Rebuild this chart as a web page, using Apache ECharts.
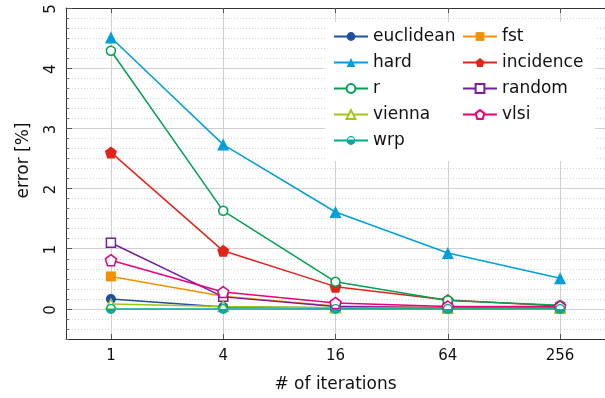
<!DOCTYPE html>
<html>
<head>
<meta charset="utf-8">
<script src="https://cdn.jsdelivr.net/npm/echarts@6/dist/echarts.min.js"></script>
<style>
    html, body { margin: 0; padding: 0; background: #fff; }
    #errorChart { width: 605px; height: 398px; }
</style>
</head>
<body>
<div id="errorChart"></div>
<script>
    // data
    const iterations = [1, 4, 16, 64, 256]
    const yTicks = [0, 1, 2, 3, 4, 5]

    const euclidean = [0.165, 0.03, 0.02, 0.01, 0.01]
    const fst = [0.54, 0.21, 0.05, 0.02, 0.01]
    const hard = [4.51, 2.73, 1.61, 0.93, 0.51]
    const incidence = [2.60, 0.965, 0.37, 0.15, 0.05]
    const r = [4.29, 1.63, 0.45, 0.14, 0.06]
    const random = [1.10, 0.20, 0.04, 0.02, 0.02]
    const vienna = [0.08, 0.04, 0.02, 0.01, 0.01]
    const vlsi = [0.81, 0.28, 0.10, 0.04, 0.04]
    const wrp = [0.0, 0.0, 0.0, 0.0, 0.0]

    const log4 = v => Math.log(v) / Math.log(4)
    const xTicks = iterations.map(log4)

    const pentagon = 'path://M0,-1 L0.951,-0.309 L0.588,0.809 L-0.588,0.809 L-0.951,-0.309 Z'
    const halfCircle = 'path://M-1,0 A1,1 0 1,1 1,0 A1,1 0 1,1 -1,0 Z M-0.72,0 A0.72,0.72 0 1,0 0.72,0 A0.72,0.72 0 1,0 -0.72,0 Z M-0.72,0 A0.72,0.72 0 0,0 0.72,0 Z'

    const FONT = 'DejaVu Sans'

    function makeSeries (name, values, color, symbol, size, empty) {
        return {
            name: name,
            type: 'line',
            xAxisIndex: 0,
            yAxisIndex: 1,
            data: iterations.map((it, i) => [log4(it), values[i]]),
            symbol: symbol,
            symbolSize: size,
            showAllSymbol: true,
            lineStyle: { color: color, width: 1.5 },
            itemStyle: empty
                ? { color: '#fff', borderColor: color, borderWidth: 1.5 }
                : { color: color, borderWidth: 0 },
            emphasis: { disabled: true },
            animation: false
        }
    }

    const series = [
        makeSeries('euclidean', euclidean, '#1f4ea3', 'circle', 10, false),
        makeSeries('fst', fst, '#f39200', 'rect', 10, false),
        makeSeries('hard', hard, '#009fda', 'triangle', 12, false),
        makeSeries('incidence', incidence, '#e2231a', pentagon, 12, false),
        makeSeries('r', r, '#00a150', 'circle', 9, true),
        makeSeries('random', random, '#7020a0', 'rect', 9, true),
        makeSeries('vienna', vienna, '#a2c617', 'triangle', 10, true),
        makeSeries('vlsi', vlsi, '#e6007e', pentagon, 11, true),
        makeSeries('wrp', wrp, '#00a99d', halfCircle, 10, false)
    ]

    const legendBase = {
        orient: 'vertical',
        top: 28,
        padding: 0,
        itemWidth: 34,
        itemHeight: 11,
        itemGap: 9,
        selectedMode: false,
        textStyle: { fontFamily: FONT, fontSize: 17, color: '#111' }
    }

    const legendBox = {
        type: 'rect',
        z: 3,
        shape: { x: 325, y: 22, width: 270, height: 139 },
        style: { fill: '#fff' }
    }

    const myChart = echarts.init(document.getElementById('errorChart'))
    const option = {
        animation: false,
        grid: { left: 66, right: -7, top: 8, bottom: 58, containLabel: false },
        graphic: [legendBox],
        legend: [
            Object.assign({}, legendBase, { left: 333, data: ['euclidean', 'hard', 'r', 'vienna', 'wrp'] }),
            Object.assign({}, legendBase, { left: 462, data: ['fst', 'incidence', 'random', 'vlsi'] })
        ],
        xAxis: [
            {
                type: 'value',
                min: -0.4,
                max: 4.4,
                position: 'bottom',
                name: '# of iterations',
                nameLocation: 'middle',
                nameGap: 37,
                nameTextStyle: { fontFamily: FONT, fontSize: 17, color: '#111' },
                axisLine: { show: true, onZero: false, lineStyle: { color: '#333', width: 1 } },
                axisTick: { show: true, inside: true, length: 5, customValues: xTicks, lineStyle: { color: '#555' } },
                axisLabel: {
                    customValues: xTicks,
                    margin: 10,
                    fontFamily: FONT,
                    fontSize: 15,
                    color: '#111',
                    formatter: v => String(Math.round(Math.pow(4, v)))
                },
                splitLine: { show: true, lineStyle: { color: '#cfcfcf', width: 1 } }
            },
            {
                type: 'value',
                min: -0.4,
                max: 4.4,
                position: 'top',
                axisLine: { show: true, onZero: false, lineStyle: { color: '#333', width: 1 } },
                axisTick: { show: true, inside: true, length: 5, customValues: xTicks, lineStyle: { color: '#555' } },
                axisLabel: { show: false },
                splitLine: { show: false }
            }
        ],
        yAxis: [
            {
                // dotted minor grid
                type: 'value',
                min: -0.5,
                max: 5,
                interval: 1 / 6,
                position: 'left',
                axisLine: { show: false, onZero: false },
                axisTick: { show: true, inside: true, length: 3, lineStyle: { color: '#666' } },
                axisLabel: { show: false },
                splitLine: { show: true, lineStyle: { color: '#d2d2d2', type: [1, 2], width: 1 } }
            },
            {
                type: 'value',
                min: -0.5,
                max: 5,
                interval: 0.5,
                position: 'left',
                name: 'error [%]',
                nameLocation: 'middle',
                nameGap: 34,
                nameTextStyle: { fontFamily: FONT, fontSize: 17, color: '#111', padding: [0, 0, 0, 26] },
                axisLine: { show: true, onZero: false, lineStyle: { color: '#333', width: 1 } },
                axisTick: { show: true, inside: true, length: 6, customValues: yTicks, lineStyle: { color: '#555' } },
                axisLabel: { show: false },
                splitLine: { show: true, lineStyle: { color: '#cfcfcf', width: 1 } }
            }
        ],
        series: series
    }
    myChart.setOption(option)

    // y tick labels are turned sideways, placed on the axis scale
    const yLabels = yTicks.map(v => ({
        type: 'text',
        z: 5,
        x: 51,
        y: myChart.convertToPixel({ yAxisIndex: 1 }, v) + 1,
        rotation: Math.PI / 2,
        style: {
            text: String(v),
            fontFamily: FONT,
            fontSize: 15,
            fill: '#111',
            align: 'center',
            verticalAlign: 'middle'
        }
    }))
    myChart.setOption({ graphic: [legendBox].concat(yLabels) })
</script>
</body>
</html>
